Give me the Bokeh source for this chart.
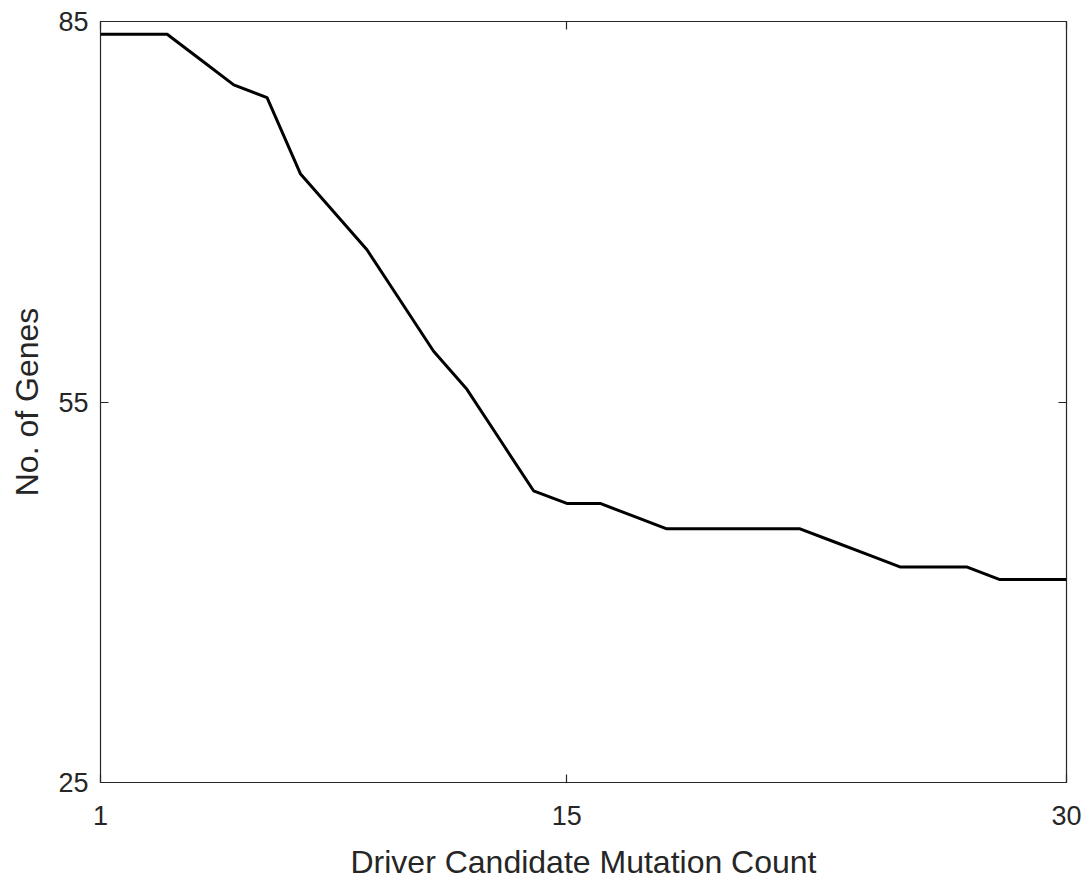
from bokeh.plotting import figure
from bokeh.models import LinearAxis, FixedTicker, Range1d
from bokeh.embed import file_html
from bokeh.resources import INLINE

mutation_count = list(range(1, 31))
num_genes = [84, 84, 84, 82, 80, 79, 73, 70, 67, 63, 59, 56, 52, 48, 47,
             47, 46, 45, 45, 45, 45, 45, 44, 43, 42, 42, 42, 41, 41, 41]
x_ticks = [1, 15, 30]
y_ticks = [25, 55, 85]

FONT = "Liberation Sans"
TXT = "#262626"

p = figure(width=1091, height=882, output_backend="svg", toolbar_location=None,
           x_range=Range1d(1, 30), y_range=Range1d(25, 85),
           min_border_left=100, min_border_right=25, min_border_top=21, min_border_bottom=98)
p.xgrid.visible = False
p.ygrid.visible = False
p.outline_line_color = TXT
p.outline_line_width = 1.2
p.background_fill_color = "white"
p.border_fill_color = "white"

p.line(mutation_count, num_genes, line_color="black", line_width=3)

def style(ax):
    ax.axis_line_color = None
    ax.major_tick_in = 8
    ax.major_tick_out = 0
    ax.minor_tick_line_color = None
    ax.major_tick_line_color = TXT
    ax.major_tick_line_width = 1.2
    ax.major_label_text_font = FONT
    ax.major_label_text_font_size = "27px"
    ax.major_label_text_color = TXT
    ax.axis_label_text_font = FONT
    ax.axis_label_text_font_size = "32px"
    ax.axis_label_text_color = TXT
    ax.axis_label_text_font_style = "normal"

xa = p.xaxis[0]
xa.ticker = FixedTicker(ticks=x_ticks)
xa.axis_label = "Driver Candidate Mutation Count"
style(xa)
xa.major_label_standoff = 23
xa.axis_label_standoff = 16

ya = p.yaxis[0]
ya.ticker = FixedTicker(ticks=y_ticks)
ya.axis_label = "No. of Genes"
style(ya)
ya.major_label_standoff = 12
ya.axis_label_standoff = 10

top = LinearAxis(ticker=FixedTicker(ticks=x_ticks))
style(top)
top.major_label_overrides = {t: "" for t in x_ticks}
top.major_label_standoff = 0
p.add_layout(top, "above")
right = LinearAxis(ticker=FixedTicker(ticks=y_ticks))
style(right)
right.major_label_overrides = {t: "" for t in y_ticks}
right.major_label_standoff = 0
p.add_layout(right, "right")

open("out.html", "w").write(file_html(p, INLINE))
